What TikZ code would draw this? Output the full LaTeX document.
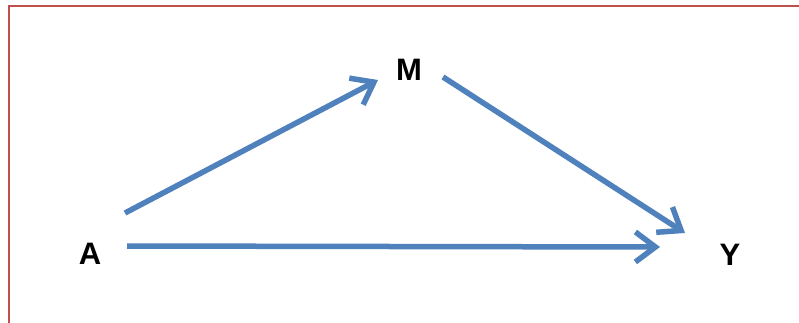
\documentclass[tikz,border=0pt]{standalone}
\usepackage{fontspec}
\setmainfont{Liberation Sans}
\usepackage{tikz}
\usetikzlibrary{arrows.meta}
\usepackage{xcolor}
\definecolor{frame_red}{HTML}{C0504D}
\definecolor{arrow_blue}{HTML}{4F81BD}

\begin{document}
\begin{tikzpicture}[x=1pt, y=-1pt,
    var/.style={font=\fontsize{31}{31}\selectfont\bfseries, inner sep=0pt},
    arr/.style={arrow_blue, line width=5.5pt, -{Straight Barb[length=20pt, width=30pt]}}]
	\useasboundingbox (0,0) rectangle (799,322);
	\fill [white] (0,0) rectangle (799,322);
	\draw [frame_red, line width=2pt] (9,6) rectangle (830,340);
	\node [var] (A) at (90,254) {A};
	\node [var] (M) at (409,70) {M};
	\node [var] (Y) at (730,255) {Y};
	\coordinate (am0) at ([shift={(35,-41)}]A.center);
	\coordinate (am1) at ([shift={(-31,10)}]M.center);
	\coordinate (my0) at ([shift={(34,7)}]M.center);
	\coordinate (my1) at ([shift={(-45,-22)}]Y.center);
	\coordinate (ay0) at ([shift={(37,-8)}]A.center);
	\coordinate (ay1) at ([shift={(-70,-8)}]Y.center);
	\draw [arr] (am0) -- (am1);
	\draw [arr] (my0) -- (my1);
	\draw [arr] (ay0) -- (ay1);
\end{tikzpicture}
\end{document}
